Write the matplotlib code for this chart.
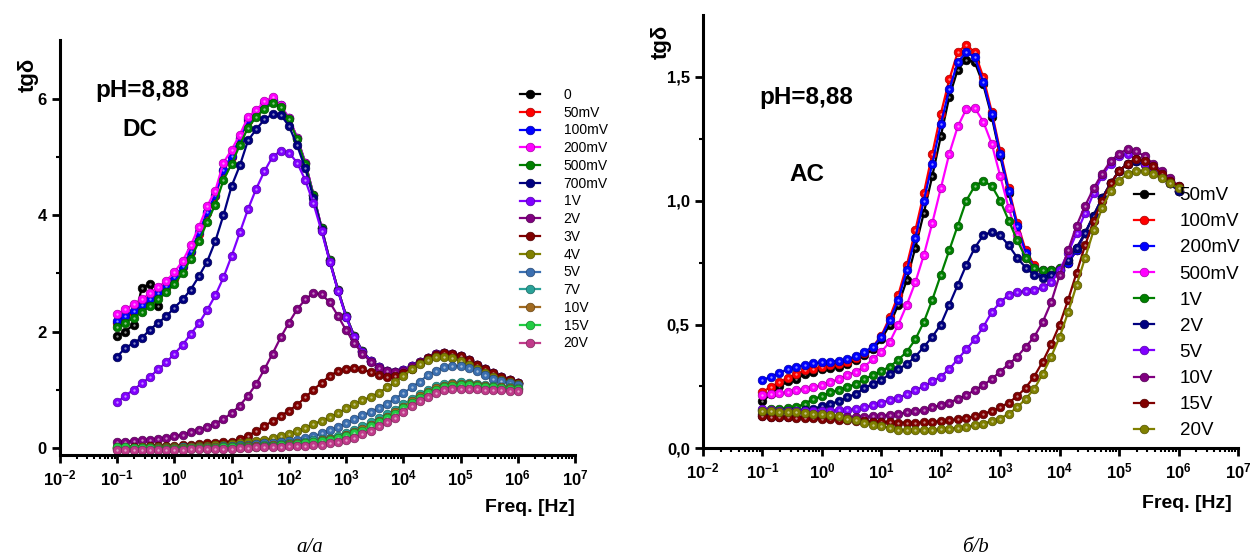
import numpy as np
import matplotlib
matplotlib.use("Agg")
import matplotlib.pyplot as plt
from matplotlib.ticker import FixedLocator, FuncFormatter, LogLocator, NullFormatter
from matplotlib.legend_handler import HandlerTuple

plt.rcParams['font.family'] = ['Liberation Sans', 'DejaVu Sans']
plt.rcParams['mathtext.fontset'] = 'custom'
plt.rcParams['mathtext.rm'] = 'Liberation Sans'
plt.rcParams['mathtext.bf'] = 'Liberation Sans:bold'

# measurement grid: 7 points per decade, 0.1 Hz .. 1 MHz
freq = np.logspace(-1, 6, 50)

# ---------------- DC (left) ----------------
dc_labels = ['0', '50mV', '100mV', '200mV', '500mV', '700mV', '1V', '2V', '3V',
             '4V', '5V', '7V', '10V', '15V', '20V']
dc_colors = ['#000000', '#ff0000', '#0000ff', '#ff00ff', '#008000', '#000080',
             '#8000ff', '#800080', '#800000', '#808000', '#3b6fb0', '#2aa198',
             '#a06a20', '#22cc44', '#c03a8a']

dc_0 = [1.93, 2.00, 2.12, 2.75, 2.82, 2.43]
dc_50mV = [2.14, 2.23, 2.33, 2.42, 2.53, 2.63, 2.75, 2.9, 3.1, 3.36, 3.68, 4.03, 4.33,
           4.76, 5.0, 5.3, 5.62, 5.77, 5.9, 5.97, 5.87, 5.66, 5.33, 4.9, 4.35, 3.78,
           3.22, 2.72, 2.27, 1.92, 1.66, 1.5, 1.39, 1.33, 1.31, 1.34, 1.4, 1.48, 1.55,
           1.61, 1.63, 1.62, 1.58, 1.51, 1.43, 1.35, 1.28, 1.22, 1.17, 1.12]
dc_100mV = [2.18, 2.27, 2.36, 2.45, 2.56, 2.66, 2.78, 2.93, 3.12, 3.38, 3.7, 4.05, 4.35,
            4.78, 5.02, 5.32, 5.64, 5.78, 5.92, 5.98, 5.88, 5.66, 5.33, 4.9, 4.35, 3.78,
            3.22, 2.72, 2.27, 1.92, 1.66, 1.5, 1.39, 1.33, 1.31, 1.34, 1.4, 1.48, 1.55,
            1.61, 1.63, 1.62, 1.58, 1.51, 1.43, 1.35, 1.28, 1.22, 1.17, 1.12]
dc_200mV = [2.30, 2.38, 2.47, 2.55, 2.66, 2.76, 2.87, 3.02, 3.21, 3.48, 3.8, 4.15, 4.42,
            4.9, 5.12, 5.38, 5.68, 5.8, 5.95, 6.02, 5.88, 5.67, 5.33, 4.9, 4.35, 3.78,
            3.22, 2.72, 2.27, 1.92, 1.66, 1.5, 1.39, 1.33, 1.31, 1.34, 1.4, 1.48, 1.55,
            1.61, 1.63, 1.62, 1.58, 1.51, 1.43, 1.35, 1.28, 1.22, 1.17, 1.12]
dc_500mV = [2.07, 2.15, 2.24, 2.33, 2.44, 2.55, 2.67, 2.82, 3.0, 3.25, 3.55, 3.88, 4.18,
            4.6, 4.88, 5.2, 5.5, 5.68, 5.82, 5.92, 5.86, 5.64, 5.31, 4.88, 4.34, 3.77,
            3.22, 2.72, 2.27, 1.92, 1.66, 1.5, 1.39, 1.33, 1.31, 1.34, 1.4, 1.48, 1.55,
            1.61, 1.63, 1.62, 1.58, 1.51, 1.43, 1.35, 1.28, 1.22, 1.17, 1.12]
dc_700mV = [1.57, 1.72, 1.8, 1.89, 2.03, 2.15, 2.26, 2.41, 2.55, 2.72, 2.95, 3.2, 3.55,
            4.0, 4.5, 4.85, 5.28, 5.47, 5.64, 5.73, 5.72, 5.53, 5.2, 4.8, 4.3, 3.75,
            3.2, 2.7, 2.25, 1.9, 1.65, 1.5, 1.39, 1.33, 1.31, 1.34, 1.4, 1.48, 1.55,
            1.61, 1.63, 1.62, 1.58, 1.51, 1.43, 1.35, 1.28, 1.22, 1.17, 1.12]
dc_1V = [0.79, 0.9, 1.0, 1.11, 1.22, 1.35, 1.47, 1.62, 1.77, 1.96, 2.14, 2.37, 2.62,
         2.93, 3.3, 3.7, 4.1, 4.45, 4.75, 5.0, 5.1, 5.07, 4.9, 4.6, 4.2, 3.72,
         3.2, 2.7, 2.25, 1.9, 1.65, 1.5, 1.39, 1.33, 1.31, 1.34, 1.4, 1.48, 1.55,
         1.61, 1.63, 1.62, 1.58, 1.51, 1.43, 1.35, 1.28, 1.22, 1.17, 1.12]
dc_2V = [0.1, 0.11, 0.12, 0.13, 0.14, 0.16, 0.18, 0.2, 0.23, 0.27, 0.31, 0.36, 0.42,
         0.5, 0.6, 0.73, 0.9, 1.1, 1.35, 1.62, 1.9, 2.15, 2.38, 2.55, 2.66, 2.64,
         2.5, 2.27, 2.02, 1.8, 1.62, 1.48, 1.38, 1.32, 1.3, 1.33, 1.39, 1.47, 1.55,
         1.61, 1.63, 1.62, 1.58, 1.51, 1.43, 1.35, 1.28, 1.22, 1.17, 1.12]
dc_3V = [0.02, 0.02, 0.02, 0.02, 0.03, 0.03, 0.03, 0.04, 0.05, 0.06, 0.07, 0.08, 0.09,
         0.1, 0.11, 0.16, 0.21, 0.29, 0.38, 0.46, 0.55, 0.64, 0.74, 0.87, 1.0, 1.12,
         1.24, 1.32, 1.36, 1.37, 1.35, 1.3, 1.25, 1.22, 1.23, 1.28, 1.36, 1.46, 1.54,
         1.6, 1.63, 1.62, 1.58, 1.51, 1.43, 1.35, 1.28, 1.22, 1.17, 1.12]
dc_4V = [0.0, 0.0, 0.0, 0.01, 0.01, 0.01, 0.01, 0.02, 0.02, 0.02, 0.03, 0.04, 0.05,
         0.06, 0.07, 0.08, 0.1, 0.12, 0.14, 0.17, 0.2, 0.24, 0.29, 0.35, 0.41, 0.47,
         0.53, 0.6, 0.68, 0.75, 0.82, 0.88, 0.95, 1.04, 1.13, 1.24, 1.35, 1.44, 1.51,
         1.56, 1.57, 1.55, 1.49, 1.42, 1.35, 1.28, 1.22, 1.17, 1.13, 1.1]
dc_5V = [-0.01, -0.01, -0.01, -0.01, 0.0, 0.0, 0.0, 0.0, 0.01, 0.01, 0.01, 0.02, 0.02,
         0.03, 0.04, 0.05, 0.06, 0.07, 0.08, 0.09, 0.1, 0.12, 0.14, 0.17, 0.2, 0.25,
         0.31, 0.36, 0.43, 0.49, 0.56, 0.62, 0.69, 0.76, 0.85, 0.94, 1.04, 1.14, 1.25,
         1.33, 1.39, 1.41, 1.41, 1.38, 1.32, 1.25, 1.19, 1.15, 1.12, 1.09]
dc_7V = [0.0, 0.0, 0.0, 0.0, 0.0, 0.0, 0.0, 0.0, 0.01, 0.01, 0.01, 0.01, 0.02,
         0.02, 0.02, 0.03, 0.03, 0.04, 0.05, 0.06, 0.07, 0.08, 0.09, 0.11, 0.13, 0.15,
         0.18, 0.21, 0.26, 0.31, 0.37, 0.44, 0.51, 0.58, 0.66, 0.75, 0.84, 0.93, 1.0,
         1.06, 1.1, 1.12, 1.13, 1.12, 1.1, 1.08, 1.06, 1.05, 1.04, 1.03]
dc_10V = [0.0, 0.0, 0.0, 0.0, 0.0, 0.0, 0.0, 0.0, 0.0, 0.01, 0.01, 0.01, 0.01,
          0.02, 0.02, 0.02, 0.03, 0.03, 0.04, 0.05, 0.06, 0.07, 0.08, 0.09, 0.11, 0.13,
          0.15, 0.18, 0.22, 0.27, 0.33, 0.4, 0.47, 0.54, 0.62, 0.71, 0.8, 0.89, 0.97,
          1.03, 1.07, 1.1, 1.1, 1.1, 1.08, 1.06, 1.05, 1.04, 1.03, 1.02]
dc_15V = [0.02, 0.01, 0.0, 0.0, 0.0, -0.01, -0.01, -0.01, -0.01, 0.0, 0.0, 0.0, 0.0,
          0.01, 0.01, 0.01, 0.02, 0.02, 0.03, 0.04, 0.05, 0.06, 0.07, 0.08, 0.1, 0.12,
          0.14, 0.17, 0.2, 0.25, 0.3, 0.37, 0.44, 0.51, 0.59, 0.68, 0.77, 0.86, 0.94,
          1.0, 1.05, 1.07, 1.08, 1.08, 1.06, 1.05, 1.04, 1.03, 1.02, 1.01]
dc_20V = [-0.03, -0.03, -0.03, -0.03, -0.03, -0.03, -0.03, -0.03, -0.03, -0.02, -0.02,
          -0.02, -0.01, -0.01, -0.01, 0.0, 0.0, 0.01, 0.01, 0.02, 0.02, 0.03, 0.04, 0.04,
          0.05, 0.06, 0.08, 0.1, 0.14, 0.18, 0.24, 0.3, 0.37, 0.45, 0.52, 0.62, 0.72,
          0.8, 0.88, 0.95, 0.99, 1.01, 1.02, 1.02, 1.01, 1.0, 0.99, 0.99, 0.98, 0.98]

dc_series = [dc_0, dc_50mV, dc_100mV, dc_200mV, dc_500mV, dc_700mV, dc_1V, dc_2V,
             dc_3V, dc_4V, dc_5V, dc_7V, dc_10V, dc_15V, dc_20V]

# ---------------- AC (right) ----------------
ac_labels = ['50mV', '100mV', '200mV', '500mV', '1V', '2V', '5V', '10V', '15V', '20V']
ac_colors = ['#000000', '#ff0000', '#0000ff', '#ff00ff', '#008000', '#000080',
             '#8000ff', '#800080', '#800000', '#808000']

ac_50mV = [0.19, 0.22, 0.25, 0.27, 0.28, 0.3, 0.31, 0.32, 0.325, 0.33, 0.34, 0.355, 0.375,
           0.4, 0.44, 0.5, 0.58, 0.68, 0.81, 0.95, 1.1, 1.26, 1.42, 1.53, 1.57, 1.56,
           1.47, 1.34, 1.18, 1.03, 0.9, 0.79, 0.73, 0.71, 0.71, 0.72, 0.75, 0.8, 0.87,
           0.94, 1.01, 1.07, 1.12, 1.15, 1.16, 1.15, 1.13, 1.1, 1.07, 1.04]
ac_100mV = [0.228, 0.248, 0.268, 0.285, 0.3, 0.315, 0.322, 0.33, 0.336, 0.342, 0.35, 0.365,
            0.385, 0.41, 0.455, 0.53, 0.62, 0.74, 0.88, 1.03, 1.19, 1.35, 1.49, 1.6, 1.63,
            1.6, 1.5, 1.36, 1.2, 1.05, 0.91, 0.8, 0.74, 0.71, 0.71, 0.72, 0.75, 0.8, 0.87,
            0.94, 1.01, 1.07, 1.12, 1.15, 1.16, 1.15, 1.13, 1.1, 1.07, 1.04]
ac_200mV = [0.275, 0.29, 0.305, 0.32, 0.33, 0.337, 0.343, 0.347, 0.35, 0.354, 0.36, 0.372,
            0.39, 0.41, 0.45, 0.52, 0.6, 0.72, 0.85, 1.0, 1.15, 1.31, 1.45, 1.56, 1.6,
            1.58, 1.48, 1.35, 1.19, 1.04, 0.9, 0.79, 0.73, 0.71, 0.71, 0.72, 0.75, 0.8,
            0.87, 0.94, 1.01, 1.07, 1.12, 1.15, 1.16, 1.15, 1.13, 1.1, 1.07, 1.04]
ac_500mV = [0.215, 0.218, 0.222, 0.228, 0.234, 0.24, 0.247, 0.256, 0.268, 0.28, 0.297,
            0.31, 0.33, 0.36, 0.39, 0.43, 0.5, 0.58, 0.67, 0.78, 0.91, 1.05, 1.19, 1.3,
            1.37, 1.375, 1.32, 1.23, 1.1, 0.97, 0.86, 0.77, 0.73, 0.72, 0.72, 0.73, 0.76,
            0.81, 0.87, 0.94, 1.01, 1.07, 1.12, 1.15, 1.16, 1.15, 1.13, 1.1, 1.07, 1.04]
ac_1V = [0.155, 0.157, 0.16, 0.163, 0.167, 0.18, 0.2, 0.21, 0.228, 0.235, 0.248, 0.26,
         0.28, 0.295, 0.313, 0.33, 0.358, 0.39, 0.44, 0.51, 0.6, 0.7, 0.8, 0.9, 1.0,
         1.06, 1.08, 1.06, 1.0, 0.92, 0.84, 0.77, 0.73, 0.72, 0.72, 0.73, 0.76, 0.81,
         0.87, 0.94, 1.01, 1.07, 1.12, 1.15, 1.16, 1.15, 1.13, 1.1, 1.07, 1.04]
ac_2V = [0.14, 0.14, 0.145, 0.15, 0.15, 0.155, 0.16, 0.17, 0.18, 0.19, 0.207, 0.22,
         0.243, 0.26, 0.276, 0.3, 0.32, 0.34, 0.37, 0.41, 0.45, 0.5, 0.58, 0.66, 0.74,
         0.81, 0.86, 0.875, 0.86, 0.82, 0.77, 0.73, 0.7, 0.69, 0.7, 0.72, 0.76, 0.81,
         0.87, 0.94, 1.01, 1.07, 1.12, 1.15, 1.16, 1.15, 1.13, 1.1, 1.07, 1.04]
ac_5V = [0.16, 0.155, 0.15, 0.15, 0.15, 0.15, 0.15, 0.15, 0.152, 0.155, 0.155, 0.158,
         0.165, 0.175, 0.185, 0.195, 0.205, 0.218, 0.235, 0.25, 0.27, 0.29, 0.32, 0.36,
         0.4, 0.44, 0.49, 0.55, 0.59, 0.62, 0.63, 0.635, 0.64, 0.65, 0.67, 0.72, 0.79,
         0.87, 0.95, 1.03, 1.1, 1.15, 1.18, 1.19, 1.17, 1.15, 1.13, 1.1, 1.08, 1.05]
ac_10V = [0.13, 0.128, 0.127, 0.126, 0.125, 0.125, 0.125, 0.125, 0.125, 0.125, 0.126,
          0.127, 0.128, 0.129, 0.13, 0.135, 0.14, 0.145, 0.15, 0.155, 0.165, 0.175, 0.185,
          0.2, 0.215, 0.235, 0.255, 0.28, 0.31, 0.34, 0.37, 0.41, 0.45, 0.51, 0.59, 0.7,
          0.8, 0.9, 0.98, 1.05, 1.11, 1.16, 1.19, 1.21, 1.2, 1.18, 1.15, 1.12, 1.09, 1.06]
ac_15V = [0.13, 0.128, 0.126, 0.125, 0.124, 0.123, 0.122, 0.12, 0.118, 0.116, 0.114,
          0.112, 0.11, 0.108, 0.106, 0.105, 0.104, 0.104, 0.104, 0.105, 0.106, 0.11,
          0.113, 0.117, 0.122, 0.13, 0.14, 0.15, 0.165, 0.185, 0.21, 0.245, 0.29, 0.35,
          0.42, 0.5, 0.6, 0.71, 0.82, 0.92, 1.0, 1.07, 1.12, 1.15, 1.17, 1.16, 1.14, 1.11,
          1.08, 1.06]
ac_20V = [0.15, 0.15, 0.148, 0.147, 0.146, 0.143, 0.14, 0.138, 0.135, 0.13, 0.12, 0.115,
          0.103, 0.095, 0.09, 0.083, 0.076, 0.072, 0.072, 0.072, 0.074, 0.077, 0.08, 0.083,
          0.087, 0.093, 0.1, 0.11, 0.12, 0.14, 0.165, 0.2, 0.24, 0.3, 0.37, 0.45, 0.55,
          0.66, 0.77, 0.88, 0.97, 1.04, 1.08, 1.11, 1.12, 1.12, 1.11, 1.09, 1.07, 1.05]

ac_series = [ac_50mV, ac_100mV, ac_200mV, ac_500mV, ac_1V, ac_2V, ac_5V, ac_10V,
             ac_15V, ac_20V]


def darker(c, f=0.65):
    r, g, b = matplotlib.colors.to_rgb(c)
    return (r * f, g * f, b * f)


def draw(ax, series, labels, colors):
    handles = []
    for vals, lab, col in zip(series, labels, colors):
        x = freq[:len(vals)]
        ln, = ax.plot(x, vals, '-', color=col, lw=1.6, marker='o', ms=6.2,
                      mfc=col, mec=darker(col), mew=0.5, label=lab)
        # little specular dot, like the shaded balls of the original
        hl, = ax.plot(x, vals, 'o', ls='none', ms=1.7, mew=0, color='white', alpha=0.55)
        handles.append((ln, hl))
    return handles


def style(ax, ylim, yticks, ylabels, yminor):
    ax.set_xscale('log')
    ax.set_xlim(1e-2, 1e7)
    ax.set_ylim(*ylim)
    for s in ['top', 'right']:
        ax.spines[s].set_visible(False)
    for s in ['left', 'bottom']:
        ax.spines[s].set_linewidth(2.2)
    ax.xaxis.set_major_locator(FixedLocator([10.0 ** p for p in range(-2, 8)]))
    ax.xaxis.set_major_formatter(FuncFormatter(
        lambda v, p: r'$\mathbf{10^{%d}}$' % int(round(np.log10(v)))))
    ax.xaxis.set_minor_locator(LogLocator(base=10, subs=np.arange(2, 10), numticks=20))
    ax.xaxis.set_minor_formatter(NullFormatter())
    ax.set_yticks(yticks)
    ax.set_yticklabels(ylabels)
    ax.set_yticks(yminor, minor=True)
    ax.tick_params(which='major', direction='out', length=6, width=2, labelsize=12)
    ax.tick_params(which='minor', direction='out', length=3, width=1.5)
    for t in ax.get_yticklabels():
        t.set_fontweight('bold')


fig = plt.figure(figsize=(12.5, 5.59), dpi=100)
ax1 = fig.add_axes([0.048, 0.186, 0.412, 0.742])
ax2 = fig.add_axes([0.5624, 0.198, 0.428, 0.775])

h1 = draw(ax1, dc_series, dc_labels, dc_colors)
style(ax1, (-0.12, 7.0), [0, 2, 4, 6], ['0', '2', '4', '6'], [1, 3, 5])
h2 = draw(ax2, ac_series, ac_labels, ac_colors)
style(ax2, (0.0, 1.75), [0, 0.5, 1.0, 1.5], ['0,0', '0,5', '1,0', '1,5'],
      [0.25, 0.75, 1.25])

ax1.legend(h1, dc_labels, handler_map={tuple: HandlerTuple(ndivide=None)},
           loc='upper left', bbox_to_anchor=(0.893, 0.885), frameon=False,
           fontsize=10, handlelength=2.9, handletextpad=0.25, labelspacing=0.27,
           borderpad=0, borderaxespad=0)
ax2.legend(h2, ac_labels, handler_map={tuple: HandlerTuple(ndivide=None)},
           loc='upper left', bbox_to_anchor=(0.805, 0.603), frameon=False,
           fontsize=13.5, handlelength=2.2, handletextpad=0.25, labelspacing=0.48,
           borderpad=0, borderaxespad=0)

# annotations
ax1.text(0.068, 0.862, 'pH=8,88', transform=ax1.transAxes, fontsize=17.5,
         fontweight='bold')
ax1.text(0.122, 0.77, 'DC', transform=ax1.transAxes, fontsize=17.5, fontweight='bold')
ax2.text(0.106, 0.795, 'pH=8,88', transform=ax2.transAxes, fontsize=17.5,
         fontweight='bold')
ax2.text(0.162, 0.617, 'AC', transform=ax2.transAxes, fontsize=17.5, fontweight='bold')

fig.text(28 / 1250, 1 - 75 / 559, 'tgδ', rotation=90, ha='center', va='center',
         fontsize=16, fontweight='bold')
fig.text(661 / 1250, 1 - 42 / 559, 'tgδ', rotation=90, ha='center', va='center',
         fontsize=16, fontweight='bold')
fig.text(575 / 1250, 1 - 508 / 559, 'Freq. [Hz]', ha='right', va='center',
         fontsize=14, fontweight='bold')
fig.text(1232 / 1250, 1 - 503 / 559, 'Freq. [Hz]', ha='right', va='center',
         fontsize=14, fontweight='bold')

fig.text(310 / 1250, 1 - 548 / 559, 'a/a', ha='center', va='center', fontsize=15,
         style='italic', family=['Liberation Serif', 'DejaVu Serif'])
fig.text(975 / 1250, 1 - 548 / 559, 'б/b', ha='center', va='center', fontsize=15,
         style='italic', family=['Liberation Serif', 'DejaVu Serif'])

fig.savefig('out.png', dpi=100)
